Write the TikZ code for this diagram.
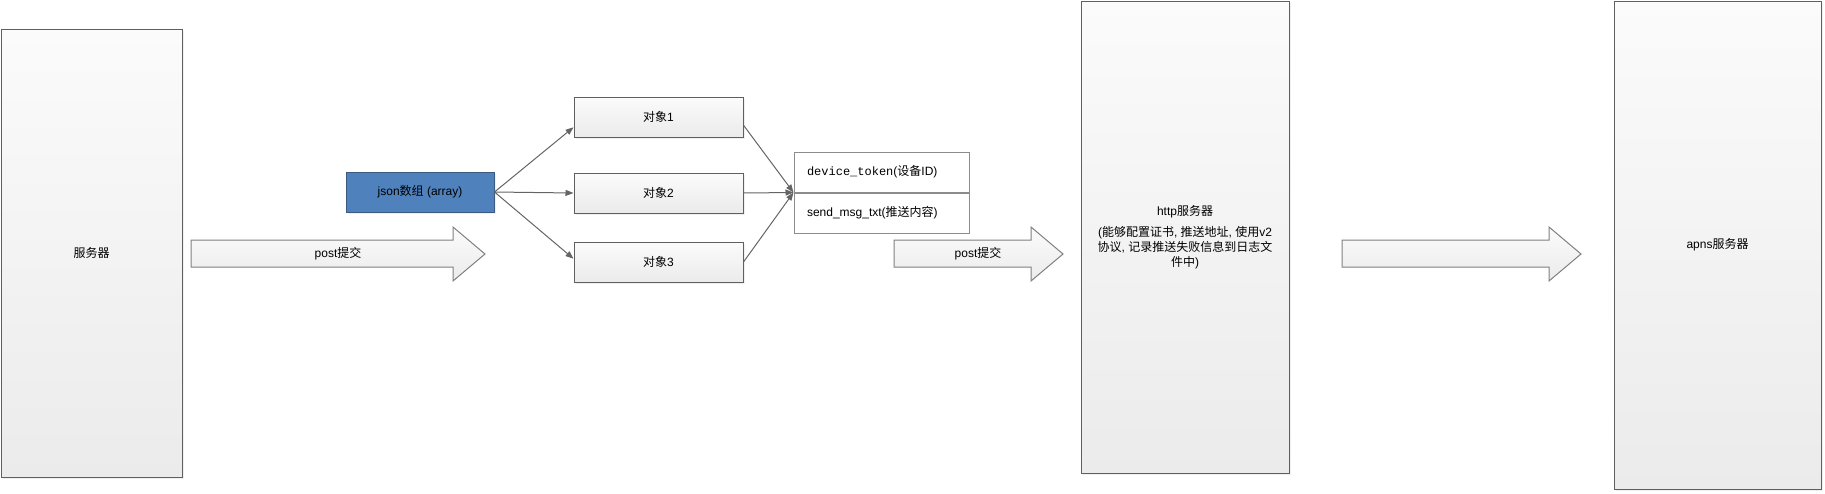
\documentclass[tikz,border=0pt]{standalone}
\usepackage{fontspec}
\setmainfont{Liberation Sans}
\setmonofont{Liberation Mono}
\newfontfamily\cjk{Noto Sans CJK SC}
\newcommand\zh[1]{{\cjk #1}}
\usetikzlibrary{positioning}
\usetikzlibrary{calc}
\usetikzlibrary{arrows.meta}
\usetikzlibrary{shadows}

\definecolor{boxline}{RGB}{95,95,95}
\definecolor{boxtop}{RGB}{251,251,251}
\definecolor{boxbottom}{RGB}{235,235,235}
\definecolor{jsonblue}{RGB}{79,129,189}
\definecolor{jsonline}{RGB}{60,90,130}
\definecolor{fieldline}{RGB}{140,140,140}
\definecolor{linkline}{RGB}{100,100,100}

\begin{document}
\begin{tikzpicture}[x=1pt, y=-1pt, line width=1pt,
    font=\fontsize{12}{15}\selectfont,
    plain/.style={draw=boxline, inner sep=0, align=center,
        drop shadow={shadow xshift=2pt, shadow yshift=-2pt, opacity=.12}},
    box/.style={plain, top color=boxtop, bottom color=boxbottom},
    item/.style={box, minimum width=169, minimum height=40},
    field/.style={draw=fieldline, fill=white, minimum height=40,
        text width=149, inner xsep=13, inner ysep=0, align=left},
    fat/.style={draw=black!50, top color=boxtop, bottom color=boxbottom},
    link/.style={draw=linkline, -{Triangle[length=8pt, width=6pt]}}]
    \newcommand\shafttop{240}
\newcommand\shaftbot{267}
\newcommand\headtop{227}
\newcommand\headbot{281}
\newcommand\headlen{32}
\newcommand\fatarrow[2]{
    \draw[fat] (#1, \shafttop) -- (#2 - \headlen, \shafttop)
        -- (#2 - \headlen, \headtop) -- (#2, {(\headtop + \headbot) / 2})
        -- (#2 - \headlen, \headbot) -- (#2 - \headlen, \shaftbot)
        -- (#1, \shaftbot) -- cycle;}

\useasboundingbox (0, 0) rectangle (1825, 493);

\node[box, minimum width=181, minimum height=448] (server) at (91.5, 253) {\zh{服务器}};

\fatarrow{191}{485}
\node (post1) at (338, 254) {post\zh{提交}};

\node[plain, draw=jsonline, fill=jsonblue, minimum width=148, minimum height=40]
    (json) at (420, 192) {json\zh{数组} (array)};

\node[item] (obj1) at (658.5, 117) {\zh{对象}1};
\node[item, below=35pt of obj1] (obj2) {\zh{对象}2};
\node[item, below=28pt of obj2] (obj3) {\zh{对象}3};

\node[field] (token) at (881.5, 172) {{\ttfamily device\_token}(\zh{设备}ID)};
\node[field, below=0pt of token] (msg) {send\_msg\_txt(\zh{推送内容})};

    \draw[link] (json.east) -- ($(obj1.south west)!.25!(obj1.north west)$);
    \draw[link] (json.east) -- (obj2.west);
    \draw[link] (json.east) -- ($(obj3.north west)!.42!(obj3.south west)$);

    \draw[link] ($(obj1.south east)!.3!(obj1.north east)$) -- (token.south west);
    \draw[link] (obj2.east) -- (token.south west);
    \draw[link] (obj3.east) -- (token.south west);

\fatarrow{894}{1063}
\node (post2) at (978, 254) {post\zh{提交}};

\node[box, minimum width=208, minimum height=472] (http) at (1185, 237)
    {http\zh{服务器}\\[6pt]
     (\zh{能够配置证书}, \zh{推送地址}, \zh{使用}v2\\
     \zh{协议}, \zh{记录推送失败信息到日志文}\\
     \zh{件中})};

\fatarrow{1342}{1581}

\node[box, minimum width=207, minimum height=488] (apns) at (1717.5, 245) {apns\zh{服务器}};
\end{tikzpicture}
\end{document}
